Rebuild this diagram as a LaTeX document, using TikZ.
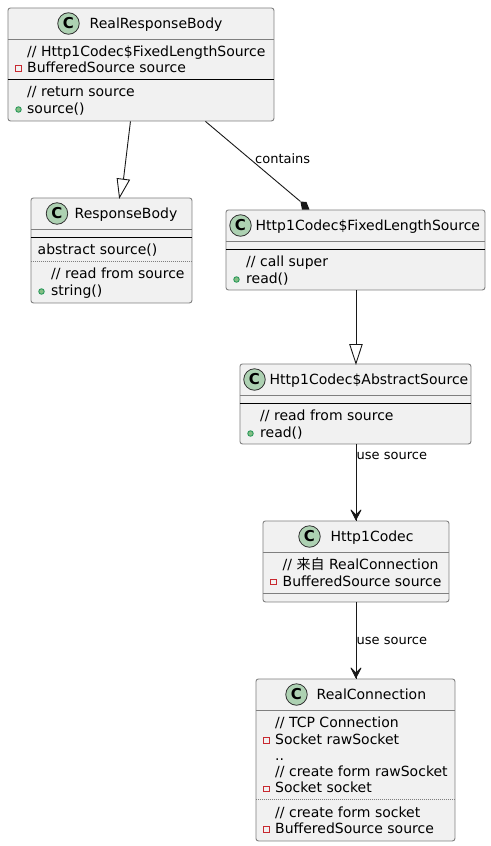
\documentclass[tikz,border=0pt]{standalone}
\usepackage{fontspec}
\setmainfont{DejaVu Sans}
\newfontfamily\cjk{Noto Sans CJK SC}
\definecolor{boxfill}{HTML}{F1F1F1}
\definecolor{boxline}{HTML}{7F7F7F}
\definecolor{circfill}{HTML}{ADD1B2}
\definecolor{privline}{HTML}{C82930}
\definecolor{publine}{HTML}{2C9A5C}
\definecolor{pubfill}{HTML}{84BE84}
\definecolor{edgecol}{HTML}{181818}
\newcommand{\mfont}{\fontsize{14}{14}\selectfont}
\newcommand{\lfont}{\fontsize{13}{13}\selectfont}
\tikzset{
  classbox/.style={draw=boxline,fill=boxfill,rounded corners=2.5pt,line width=0.9pt,anchor=north west,inner sep=0pt,minimum width=#1,text width=0pt},
  member/.style={anchor=base west,inner sep=0pt,font=\mfont,text=black},
  title/.style={anchor=base west,inner sep=0pt,font=\mfont,text=black},
  edgelabel/.style={anchor=base west,inner sep=0pt,font=\lfont,text=black},
  glyphC/.style={circle,draw=black!80,fill=circfill,line width=0.8pt,minimum size=21.5pt,inner sep=0pt,font=\fontsize{15}{15}\selectfont\bfseries},
  hdr/.style={draw=boxline,line width=0.9pt},
  sep/.style={draw=black,line width=0.9pt},
  dots/.style={draw=boxline,line width=0.9pt,dash pattern=on 1pt off 1pt},
  conn/.style={draw=edgecol,line width=0.9pt},
  privm/.style={draw=privline,line width=0.9pt,minimum size=5.5pt,inner sep=0pt},
  pubm/.style={circle,draw=publine,fill=pubfill,line width=0.9pt,minimum size=5.5pt,inner sep=0pt}
}
\newcommand{\cbox}[6]{% name, left, top, right, bottom, unused
  \node[classbox=#4pt-#2pt,minimum height=#5pt-#3pt] (#1) at (#2,#3) {};}
\newcommand{\hl}[4]{\draw[#1] (#2,#4) -- (#3,#4);}
\begin{document}
\begin{tikzpicture}[x=1pt,y=-1pt]
\useasboundingbox (0,0) rectangle (490,846);
% boxes
\cbox{rrb}{7.5}{7.5}{273.5}{120.5}{}
\hl{hdr}{7.5}{273.5}{39.5}
\hl{sep}{7.5}{273.5}{79.5}
\cbox{rb}{30.5}{197.5}{191.5}{302.5}{}
\hl{hdr}{30.5}{191.5}{229.5}
\hl{sep}{30.5}{191.5}{237.5}
\hl{dots}{30.5}{191.5}{261.5}
\cbox{fls}{225.5}{209.5}{484.5}{289.5}{}
\hl{hdr}{225.5}{484.5}{241.5}
\hl{sep}{225.5}{484.5}{249.5}
\cbox{as}{239.5}{363.5}{470.5}{443.5}{}
\hl{hdr}{239.5}{470.5}{395.5}
\hl{sep}{239.5}{470.5}{403.5}
\cbox{hc}{262.5}{520.5}{448.5}{601.5}{}
\hl{hdr}{262.5}{448.5}{552.5}
\hl{hdr}{262.5}{448.5}{593.5}
\cbox{rc}{255.5}{678.5}{454.5}{840.5}{}
\hl{hdr}{255.5}{454.5}{710.5}
\hl{dots}{255.5}{454.5}{799.5}
% axis of the vertical connectors
\coordinate (flsB) at (fls.south -| hc.north);
\coordinate (asT) at (as.north -| hc.north);
\coordinate (asB) at (as.south -| hc.north);
\coordinate (rcT) at (rc.north -| hc.north);
% connectors
\draw[conn] ([xshift=-10.5pt]rrb.south) -- ([xshift=12pt,yshift=18pt]rb.north);
\draw[conn,fill=white] ([xshift=5.7pt,yshift=19pt]rb.north) -- ([xshift=18pt,yshift=17.5pt]rb.north) -- ([xshift=8pt]rb.north) -- cycle;
\draw[conn] ([xshift=64.5pt]rrb.south) -- ([xshift=-55pt,yshift=8pt]fls.north);
\fill[edgecol] ([xshift=-55pt,yshift=8pt]fls.north) -- ([xshift=-49pt,yshift=7.5pt]fls.north) -- ([xshift=-46pt]fls.north) -- ([xshift=-53.5pt]fls.north) -- cycle;
\draw[conn] (flsB) -- ([yshift=19pt]asT);
\draw[conn,fill=white] ([xshift=-6.2pt,yshift=19pt]asT) -- ([xshift=6.2pt,yshift=19pt]asT) -- (asT) -- cycle;
\draw[conn] (asB) -- (hc.north);
\draw[conn] (hc.south) -- (rcT);
\foreach \n in {hc.north,rcT}{
  \filldraw[edgecol,line width=0.8pt,line join=round] ([yshift=0.6pt]\n) -- ([xshift=-5pt,yshift=10.5pt]\n) -- ([yshift=5.5pt]\n) -- ([xshift=5pt,yshift=10.5pt]\n) -- cycle;
}
% edge labels
\node[edgelabel] (l1) at (255,163) {contains};
\node[edgelabel] (l2) at (356.5,459) {use source};
\node[edgelabel] (l3) at (356.5,644) {use source};
% RealResponseBody
\node[glyphC] (c1) at (68.5,23.5) {C};
\node[title] (t1) at (89.5,28.5) {RealResponseBody};
\node[member] (m1) at (27,56.5) {// Http1Codec\$FixedLengthSource};
\node[member] (m2) at (27,72.5) {BufferedSource source};
\node[privm] (p1) at (18.5,68.5) {};
\node[member] (m3) at (27,96.5) {// return source};
\node[member] (m4) at (27,113) {source()};
\node[pubm] (p2) at (18.5,109.5) {};
% ResponseBody
\node[glyphC] (c2) at (57,213.5) {C};
\node[title] (t2) at (74.5,218.5) {ResponseBody};
\node[member] (m5) at (37.5,254.5) {abstract source()};
\node[member] (m6) at (51,278.5) {// read from source};
\node[member] (m7) at (51,295) {string()};
\node[pubm] (p3) at (41.5,291.5) {};
% Fixed
\node[glyphC] (c3) at (240.5,225.5) {C};
\node[title] (t3) at (255.5,230.5) {Http1Codec\$FixedLengthSource};
\node[member] (m8) at (246,266.5) {// call super};
\node[member] (m9) at (246,283) {read()};
\node[pubm] (p4) at (236.5,279.5) {};
% Abstract
\node[glyphC] (c4) at (254.5,379.5) {C};
\node[title] (t4) at (269.5,384.5) {Http1Codec\$AbstractSource};
\node[member] (m10) at (260,420.5) {// read from source};
\node[member] (m11) at (260,437) {read()};
\node[pubm] (p5) at (250.5,433.5) {};
% Http1Codec
\node[glyphC] (c5) at (309.5,536.5) {C};
\node[title] (t5) at (330.5,541.5) {Http1Codec};
\node[member] (m12) at (282.5,569.5) {// {\cjk 来自} RealConnection};
\node[member] (m13) at (282.5,586) {BufferedSource source};
\node[privm] (p6) at (273.5,582) {};
% RealConnection
\node[glyphC] (c6) at (296.5,694.5) {C};
\node[title] (t6) at (316.5,699.5) {RealConnection};
\node[member] (m14) at (275,727.5) {// TCP Connection};
\node[member] (m15) at (275,744) {Socket rawSocket};
\node[privm] (p7) at (266.5,740.5) {};
\node[member] (m16) at (275,760) {..};
\node[member] (m17) at (275,776) {// create form rawSocket};
\node[member] (m18) at (275,792) {Socket socket};
\node[privm] (p8) at (266.5,789) {};
\node[member] (m19) at (275,817) {// create form socket};
\node[member] (m20) at (275,833) {BufferedSource source};
\node[privm] (p9) at (266.5,829.5) {};
\end{tikzpicture}
\end{document}
